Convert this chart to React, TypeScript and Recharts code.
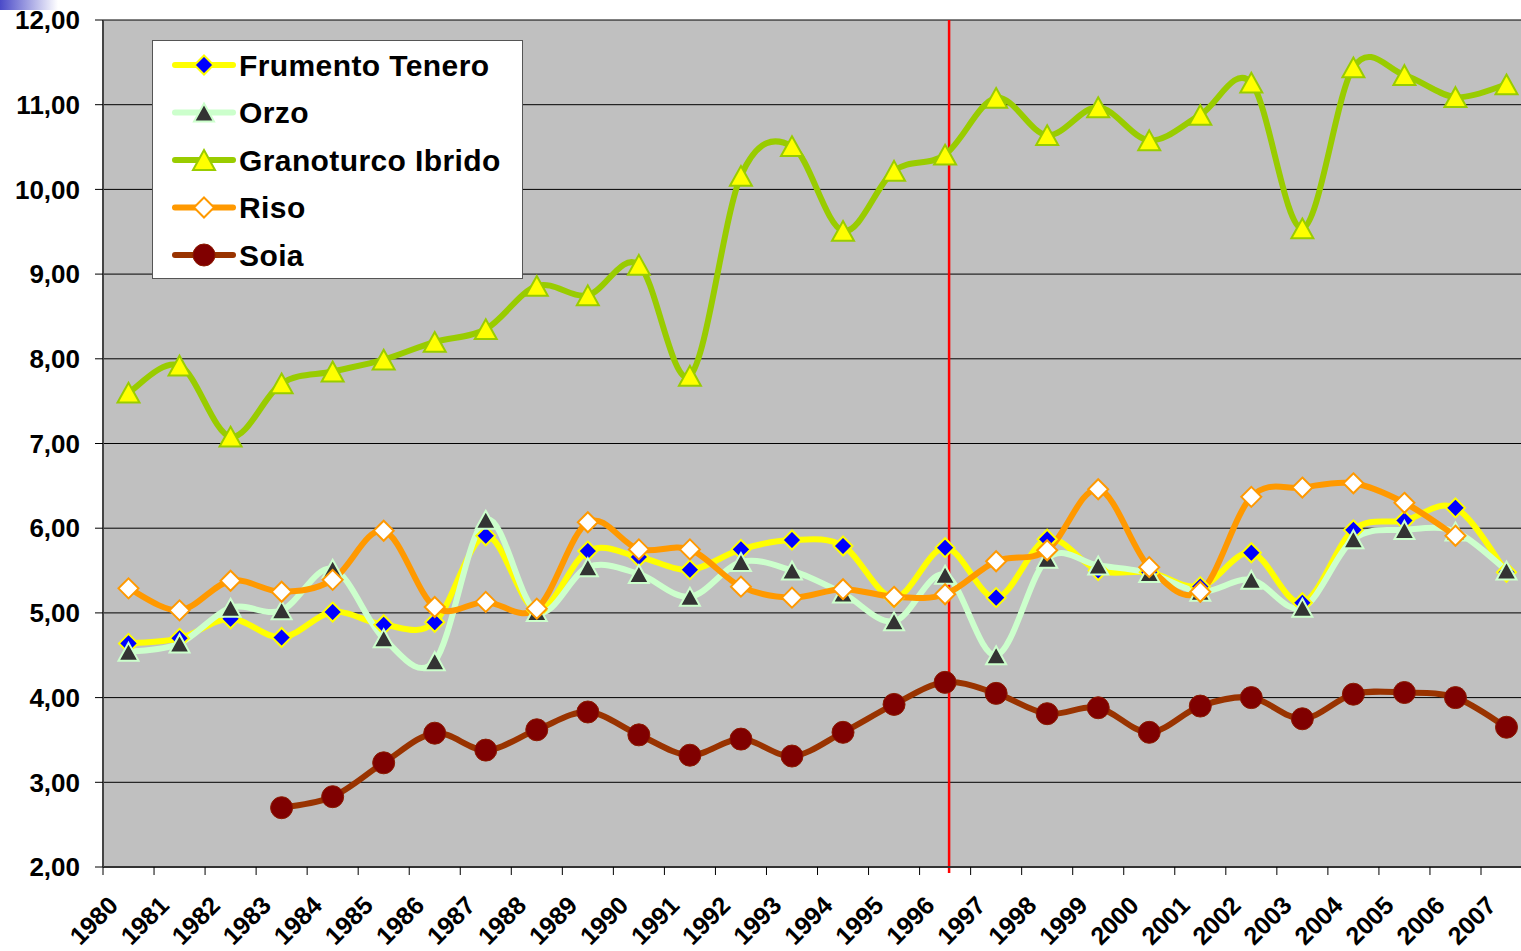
import {
  LineChart,
  Line,
  XAxis,
  YAxis,
  CartesianGrid,
  ReferenceLine,
  Legend,
} from 'recharts';

const YEARS = [
  1980, 1981, 1982, 1983, 1984, 1985, 1986, 1987, 1988, 1989, 1990, 1991, 1992, 1993,
  1994, 1995, 1996, 1997, 1998, 1999, 2000, 2001, 2002, 2003, 2004, 2005, 2006, 2007,
];

const FRUMENTO = [
  4.64, 4.7, 4.93, 4.71, 5.01, 4.86, 4.89, 5.91, 5.03, 5.73, 5.66, 5.51, 5.75, 5.86,
  5.79, 5.18, 5.77, 5.18, 5.87, 5.5, 5.48, 5.31, 5.71, 5.12, 5.98, 6.09, 6.24, 5.48,
];

const ORZO = [
  4.54, 4.64, 5.06, 5.03, 5.52, 4.7, 4.43, 6.1, 5.01, 5.54, 5.46, 5.19, 5.6, 5.5,
  5.23, 4.9, 5.45, 4.5, 5.64, 5.56, 5.47, 5.25, 5.39, 5.06, 5.87, 5.98, 5.96, 5.5,
];

const GRANOTURCO = [
  7.6, 7.92, 7.08, 7.71, 7.85, 7.99, 8.2, 8.35, 8.86, 8.75, 9.11, 7.8, 10.16, 10.51,
  9.51, 10.22, 10.41, 11.08, 10.64, 10.97, 10.58, 10.88, 11.26, 9.54, 11.44, 11.35, 11.09, 11.24,
];

const RISO = [
  5.29, 5.03, 5.38, 5.25, 5.39, 5.97, 5.07, 5.13, 5.05, 6.07, 5.75, 5.75, 5.31, 5.18,
  5.28, 5.19, 5.22, 5.61, 5.74, 6.46, 5.54, 5.25, 6.37, 6.48, 6.53, 6.3, 5.91, null,
];

const SOIA = [
  null, null, null, 2.7, 2.83, 3.23, 3.58, 3.38, 3.62, 3.83, 3.56, 3.32, 3.51, 3.31,
  3.59, 3.92, 4.18, 4.05, 3.81, 3.88, 3.59, 3.9, 4.0, 3.75, 4.04, 4.06, 4.0, 3.65,
];

const Y_TICKS = [2, 3, 4, 5, 6, 7, 8, 9, 10, 11, 12];

const data = YEARS.map((year, i) => ({
  year,
  frumento: FRUMENTO[i],
  orzo: ORZO[i],
  granoturco: GRANOTURCO[i],
  riso: RISO[i],
  soia: SOIA[i],
}));

const FONT = '"Liberation Sans", Arial, sans-serif';
const HALF_BAND = 25.5;

// excel-like smoothing (catmull-rom through the points)
function excelSmooth(context: any) {
  let pts: number[][] = [];
  return {
    areaStart() {},
    areaEnd() {},
    lineStart() {
      pts = [];
    },
    point(x: number, y: number) {
      pts.push([+x, +y]);
    },
    lineEnd() {
      if (!pts.length) return;
      context.moveTo(pts[0][0], pts[0][1]);
      for (let i = 0; i < pts.length - 1; i++) {
        const p0 = pts[i - 1] || pts[i];
        const p1 = pts[i];
        const p2 = pts[i + 1];
        const p3 = pts[i + 2] || p2;
        context.bezierCurveTo(
          p1[0] + (p2[0] - p0[0]) / 6,
          p1[1] + (p2[1] - p0[1]) / 6,
          p2[0] - (p3[0] - p1[0]) / 6,
          p2[1] - (p3[1] - p1[1]) / 6,
          p2[0],
          p2[1],
        );
      }
    },
  };
}

type MarkerKind = 'diamond' | 'triangle' | 'circle';

interface SeriesStyle {
  key: string;
  name: string;
  line: string;
  marker: MarkerKind;
  fill: string;
  stroke: string;
  size: number;
}

const SERIES: SeriesStyle[] = [
  { key: 'frumento', name: 'Frumento Tenero', line: '#FFFF00', marker: 'diamond', fill: '#0000FF', stroke: '#FFFF00', size: 9.5 },
  { key: 'orzo', name: 'Orzo', line: '#CCFFCC', marker: 'triangle', fill: '#333333', stroke: '#CCFFCC', size: 10 },
  { key: 'granoturco', name: 'Granoturco Ibrido', line: '#99CC00', marker: 'triangle', fill: '#FFFF00', stroke: '#99CC00', size: 11 },
  { key: 'riso', name: 'Riso', line: '#FF9900', marker: 'diamond', fill: '#FFFFFF', stroke: '#FF9900', size: 10 },
  { key: 'soia', name: 'Soia', line: '#993300', marker: 'circle', fill: '#800000', stroke: '#8B1A00', size: 11 },
];

function Marker({ s, cx, cy }: { s: SeriesStyle; cx: number; cy: number }) {
  const r = s.size;
  if (s.marker === 'diamond') {
    return (
      <polygon
        points={`${cx},${cy - r} ${cx + r},${cy} ${cx},${cy + r} ${cx - r},${cy}`}
        fill={s.fill}
        stroke={s.stroke}
        strokeWidth={2}
      />
    );
  }
  if (s.marker === 'triangle') {
    const h = r * 0.9;
    return (
      <polygon
        points={`${cx},${cy - h} ${cx + r},${cy + h} ${cx - r},${cy + h}`}
        fill={s.fill}
        stroke={s.stroke}
        strokeWidth={2}
      />
    );
  }
  return <circle cx={cx} cy={cy} r={r} fill={s.fill} stroke={s.stroke} strokeWidth={1} />;
}

function makeDot(s: SeriesStyle) {
  return (props: any) => {
    const { cx, cy, index, value } = props;
    if (cx == null || cy == null || value == null) return <g key={`${s.key}-${index}`} />;
    return (
      <g key={`${s.key}-${index}`}>
        <Marker s={s} cx={cx} cy={cy} />
      </g>
    );
  };
}

function YearTick(props: any) {
  const { x, y, payload, index } = props;
  const axisY = y - 10;
  const ax = x - 9;
  const ay = axisY + 40;
  return (
    <g>
      <line x1={x - HALF_BAND} y1={axisY} x2={x - HALF_BAND} y2={axisY + 8} stroke="#000" />
      {index === YEARS.length - 1 && (
        <line x1={x + HALF_BAND} y1={axisY} x2={x + HALF_BAND} y2={axisY + 8} stroke="#000" />
      )}
      <text
        x={ax}
        y={ay}
        transform={`rotate(-45, ${ax}, ${ay})`}
        textAnchor="end"
        fontSize={25}
        fontWeight={700}
        fontFamily={FONT}
        fill="#000"
      >
        {payload.value}
      </text>
    </g>
  );
}

function RedLine(props: any) {
  const { x1, y1, y2 } = props;
  const x = x1 + 4;
  return <line x1={x} y1={Math.min(y1, y2)} x2={x} y2={Math.max(y1, y2) + 6} stroke="#FF0000" strokeWidth={2.5} />;
}

function LegendBox() {
  return (
    <svg width={372} height={240} style={{ display: 'block' }}>
      <rect x={0.5} y={0.5} width={370} height={238} fill="#fff" stroke="#555" strokeWidth={1} />
      {SERIES.map((s, i) => {
        const cy = 25 + i * 47.5;
        return (
          <g key={s.key}>
            <line x1={23} y1={cy} x2={81} y2={cy} stroke={s.line} strokeWidth={6} strokeLinecap="round" />
            <Marker s={s} cx={52} cy={cy} />
            <text
              x={87}
              y={cy + 10.5}
              fontSize={30}
              fontWeight={700}
              fontFamily={FONT}
              letterSpacing={0.4}
              fill="#000"
            >
              {s.name}
            </text>
          </g>
        );
      })}
    </svg>
  );
}

export default function App() {
  return (
    <div
      style={{
        position: 'absolute',
        left: 0,
        top: 0,
        width: 1521,
        height: 951,
        overflow: 'hidden',
        background: '#fff',
        fontFamily: FONT,
      }}
    >
      <div
        style={{
          position: 'absolute',
          left: 0,
          top: 0,
          width: 58,
          height: 10,
          background: 'linear-gradient(to right, #4a4ac8, #ffffff)',
        }}
      />
      <LineChart
        width={1540}
        height={951}
        data={data}
        margin={{ top: 20, right: 8, bottom: 0, left: 0 }}
      >
        <CartesianGrid vertical={false} stroke="#000" fill="#C0C0C0" fillOpacity={1} />
        <XAxis
          dataKey="year"
          type="category"
          interval={0}
          height={84}
          padding={{ left: HALF_BAND, right: HALF_BAND }}
          tickLine={false}
          tickSize={8}
          tickMargin={2}
          axisLine={{ stroke: '#333', strokeWidth: 2 }}
          tick={<YearTick />}
        />
        <YAxis
          width={103}
          domain={[2, 12]}
          ticks={Y_TICKS}
          interval={0}
          tickSize={8}
          tickMargin={15}
          tickLine={{ stroke: '#000' }}
          axisLine={{ stroke: '#444', strokeWidth: 2 }}
          tickFormatter={(v: number) => v.toFixed(2).replace('.', ',')}
          tick={{ fill: '#000', fontSize: 26, fontWeight: 700, fontFamily: FONT }}
        />
        <Legend
          layout="vertical"
          align="center"
          verticalAlign="middle"
          wrapperStyle={{ left: 152, top: 40, width: 372, height: 240 }}
          content={() => <LegendBox />}
        />
        <ReferenceLine x={1996} stroke="#FF0000" strokeWidth={2.5} shape={<RedLine />} />
        {SERIES.map((s) => (
          <Line
            key={s.key}
            dataKey={s.key}
            name={s.name}
            type={excelSmooth as any}
            stroke={s.line}
            strokeWidth={6}
            dot={makeDot(s)}
            activeDot={false}
            isAnimationActive={false}
          />
        ))}
      </LineChart>
    </div>
  );
}
